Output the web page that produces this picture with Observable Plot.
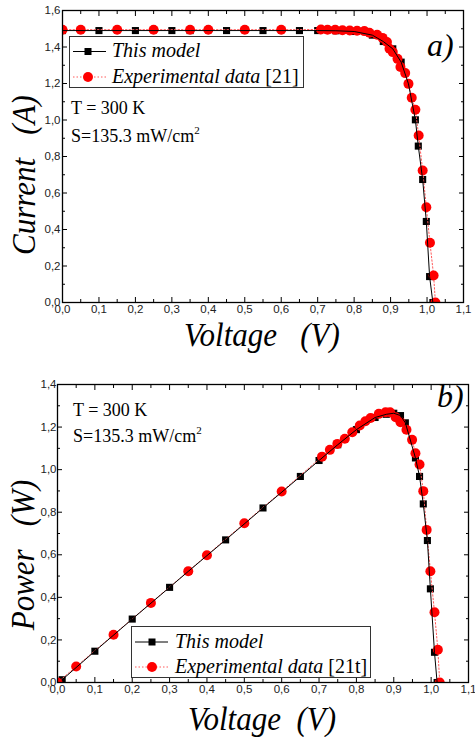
<!DOCTYPE html>
<html><head><meta charset="utf-8">
<script src="https://cdn.jsdelivr.net/npm/d3@7"></script>
<script src="https://cdn.jsdelivr.net/npm/@observablehq/plot@0.6"></script>
<style>
body{margin:0;background:#fff;}
#wrap{position:relative;width:475px;height:737px;overflow:hidden;}
#wrap > svg{position:absolute;left:0;}
#wrap svg.ov text{font-family:"Liberation Serif","Times New Roman",serif;}
</style></head><body><div id="wrap"></div>
<script>
// ---- tick values ----
const xTicks = [0, 0.1, 0.2, 0.3, 0.4, 0.5, 0.6, 0.7, 0.8, 0.9, 1.0, 1.1];
const xMinorTicks = [0.05, 0.15, 0.25, 0.35, 0.45, 0.55, 0.65, 0.75, 0.85, 0.95, 1.05];
const yTicksA = [0, 0.2, 0.4, 0.6, 0.8, 1.0, 1.2, 1.4, 1.6];
const yMinorTicksA = [0.1, 0.3, 0.5, 0.7, 0.9, 1.1, 1.3, 1.5];
const yTicksB = [0, 0.2, 0.4, 0.6, 0.8, 1.0, 1.2, 1.4];
const yMinorTicksB = [0.1, 0.3, 0.5, 0.7, 0.9, 1.1, 1.3];

// ---- panel a: I-V ----
const modelVoltageA = [0, 0.1, 0.2, 0.3, 0.35, 0.45, 0.55, 0.65, 0.7, 0.75, 0.8, 0.85, 0.88, 0.906, 0.929, 0.949, 0.968, 0.976, 0.988, 0.998, 1.007, 1.016];
const modelCurrentA = [1.49, 1.49, 1.49, 1.49, 1.49, 1.49, 1.49, 1.49, 1.49, 1.489, 1.485, 1.465, 1.43, 1.39, 1.317, 1.198, 1.001, 0.857, 0.674, 0.444, 0.142, 0];
const expVoltageA = [0, 0.05, 0.15, 0.25, 0.35, 0.4, 0.5, 0.6, 0.709, 0.727, 0.748, 0.768, 0.788, 0.808, 0.828, 0.842, 0.863, 0.878, 0.89, 0.897, 0.906, 0.919, 0.927, 0.94, 0.949, 0.958, 0.968, 0.977, 0.988, 0.998, 1.008, 1.018, 1.023];
const expCurrentA = [1.495, 1.495, 1.495, 1.495, 1.495, 1.495, 1.495, 1.495, 1.496, 1.495, 1.494, 1.492, 1.49, 1.489, 1.487, 1.478, 1.467, 1.45, 1.427, 1.39, 1.372, 1.335, 1.29, 1.257, 1.198, 1.122, 1.056, 0.915, 0.723, 0.522, 0.327, 0.148, 0];

// ---- panel b: P-V ----
const modelVoltageB = [0.0125, 0.1, 0.2, 0.3, 0.35, 0.45, 0.55, 0.65, 0.7, 0.75, 0.8, 0.85, 0.88, 0.9, 0.918, 0.931, 0.958, 0.969, 0.979, 0.99, 0.998, 1.009, 1.016];
const modelPowerB = [0.013, 0.147, 0.298, 0.447, 0.522, 0.67, 0.82, 0.968, 1.043, 1.117, 1.188, 1.245, 1.26, 1.265, 1.254, 1.22, 1.055, 0.968, 0.839, 0.667, 0.44, 0.142, 0];
const expVoltageB = [0, 0.05, 0.15, 0.25, 0.35, 0.4, 0.5, 0.6, 0.708, 0.729, 0.749, 0.769, 0.789, 0.809, 0.824, 0.838, 0.86, 0.878, 0.89, 0.905, 0.918, 0.934, 0.949, 0.958, 0.969, 0.979, 0.988, 0.998, 1.009, 1.018, 1.023];
const expPowerB = [0, 0.075, 0.224, 0.374, 0.523, 0.598, 0.748, 0.897, 1.061, 1.093, 1.121, 1.145, 1.176, 1.207, 1.227, 1.243, 1.262, 1.27, 1.27, 1.246, 1.223, 1.187, 1.14, 1.077, 1.024, 0.899, 0.717, 0.523, 0.33, 0.154, 0];

const zip = (xs, ys) => xs.map((v, i) => ({v, y: ys[i]}));
const fmt = d => d.toFixed(1).replace(".", ",");
const sans = "Liberation Sans, Arial, sans-serif";

function panel({height, mt, mb, ml, mr, yMax, yTicks, yMinor, model, exp, yPad}) {
  const tick = (anchor, ticks, size) =>
    (anchor === "bottom" || anchor === "top")
      ? Plot.axisX(ticks, {anchor, tickSize: size, fill: "none", tickFormat: () => "", label: null, stroke: "#000"})
      : Plot.axisY(ticks, {anchor, tickSize: size, fill: "none", tickFormat: () => "", label: null, stroke: "#000"});
  return Plot.plot({
    width: 475, height,
    marginTop: mt, marginBottom: mb, marginLeft: ml, marginRight: mr,
    x: {domain: [0, 1.1]},
    y: {domain: [0, yMax]},
    style: {background: "transparent", overflow: "visible"},
    marks: [
      tick("bottom", xMinorTicks, -3), tick("top", xMinorTicks, -3),
      tick("bottom", xTicks, -5), tick("top", xTicks, -5),
      tick("left", yMinor, -3), tick("right", yMinor, -3),
      tick("left", yTicks, -5), tick("right", yTicks, -5),
      Plot.axisX(xTicks, {anchor: "bottom", tickSize: 0, tickPadding: 2, tickFormat: fmt, label: null, fontSize: 11.5, fontFamily: sans, fill: "#222"}),
      Plot.axisY(yTicks, {anchor: "left", tickSize: 0, tickPadding: yPad, tickFormat: fmt, label: null, fontSize: 11.5, fontFamily: sans, fill: "#222"}),
      Plot.dot(model, {x: "v", y: "y", symbol: "square", r: 4, fill: "#000", clip: true}),
      Plot.line(exp, {x: "v", y: "y", stroke: "#ff5a5a", strokeWidth: 1, strokeDasharray: "1.5,2", clip: true}),
      Plot.dot(exp, {x: "v", y: "y", r: 5, fill: "#ff0000", clip: true}),
      Plot.line(model, {x: "v", y: "y", stroke: "#000", strokeWidth: 1, clip: true}),
      Plot.frame({stroke: "#000", strokeWidth: 1.3})
    ]
  });
}

const wrap = document.getElementById("wrap");
const a = panel({height: 360, mt: 10, mb: 58, ml: 62, mr: 12, yMax: 1.6, yTicks: yTicksA, yMinor: yMinorTicksA,
  model: zip(modelVoltageA, modelCurrentA), exp: zip(expVoltageA, expCurrentA), yPad: 2});
a.style.top = "0px";
wrap.appendChild(a);
const b = panel({height: 377, mt: 24, mb: 55, ml: 57, mr: 7, yMax: 1.4, yTicks: yTicksB, yMinor: yMinorTicksB,
  model: zip(modelVoltageB, modelPowerB), exp: zip(expVoltageB, expPowerB), yPad: 1});
b.style.top = "360px";
wrap.appendChild(b);

// ---- annotations, legends, axis titles ----
const it = 'font-style="italic"';
const ov = `
<svg class="ov" xmlns="http://www.w3.org/2000/svg" width="475" height="737" style="top:0;pointer-events:none" fill="#000">
  <rect x="69.5" y="36.5" width="234" height="51" fill="none" stroke="#333"/>
  <line x1="73" x2="106" y1="51.5" y2="51.5" stroke="#000"/>
  <rect x="84.5" y="48" width="7" height="7" fill="#000"/>
  <line x1="73" x2="106" y1="77" y2="77" stroke="#ff5a5a" stroke-dasharray="1.5,2"/>
  <circle cx="88" cy="77" r="5" fill="#f00"/>
  <text x="112" y="57" font-size="20" ${it}>This model</text>
  <text x="112" y="83" font-size="20"><tspan ${it}>Experimental data </tspan>[21]</text>
  <text x="71" y="114" font-size="18">T = 300 K</text>
  <text x="71" y="142" font-size="18">S=135.3 mW/cm<tspan font-size="11" dy="-8">2</tspan></text>
  <text x="427" y="56" font-size="32" ${it}>a)</text>
  <text x="262" y="346" font-size="31" ${it} text-anchor="middle" transform="translate(262,346) scale(1,1.08) translate(-262,-346)" xml:space="preserve">Voltage   (V)</text>
  <text transform="translate(35,175) scale(1.08,1) rotate(-90)" font-size="31" ${it} text-anchor="middle" xml:space="preserve">Current   (A)</text>

  <rect x="131.5" y="626.5" width="239" height="51" fill="none" stroke="#333"/>
  <line x1="135" x2="168" y1="642" y2="642" stroke="#000"/>
  <rect x="148.5" y="638.5" width="7" height="7" fill="#000"/>
  <line x1="135" x2="168" y1="667" y2="667" stroke="#ff5a5a" stroke-dasharray="1.5,2"/>
  <circle cx="152" cy="667" r="5" fill="#f00"/>
  <text x="175" y="648" font-size="20" ${it}>This model</text>
  <text x="175" y="673" font-size="20"><tspan ${it}>Experimental data </tspan>[21t]</text>
  <text x="73" y="416" font-size="18">T = 300 K</text>
  <text x="73" y="442" font-size="18">S=135.3 mW/cm<tspan font-size="11" dy="-8">2</tspan></text>
  <text x="437" y="407" font-size="32" ${it}>b)</text>
  <text x="262" y="730" font-size="31" ${it} text-anchor="middle" transform="translate(262,730) scale(1,1.08) translate(-262,-730)" xml:space="preserve">Voltage  (V)</text>
  <text transform="translate(34,555) scale(1.08,1) rotate(-90)" font-size="31" ${it} text-anchor="middle" xml:space="preserve">Power   (W)</text>
</svg>`;
wrap.insertAdjacentHTML("beforeend", ov);
</script>
</body></html>
